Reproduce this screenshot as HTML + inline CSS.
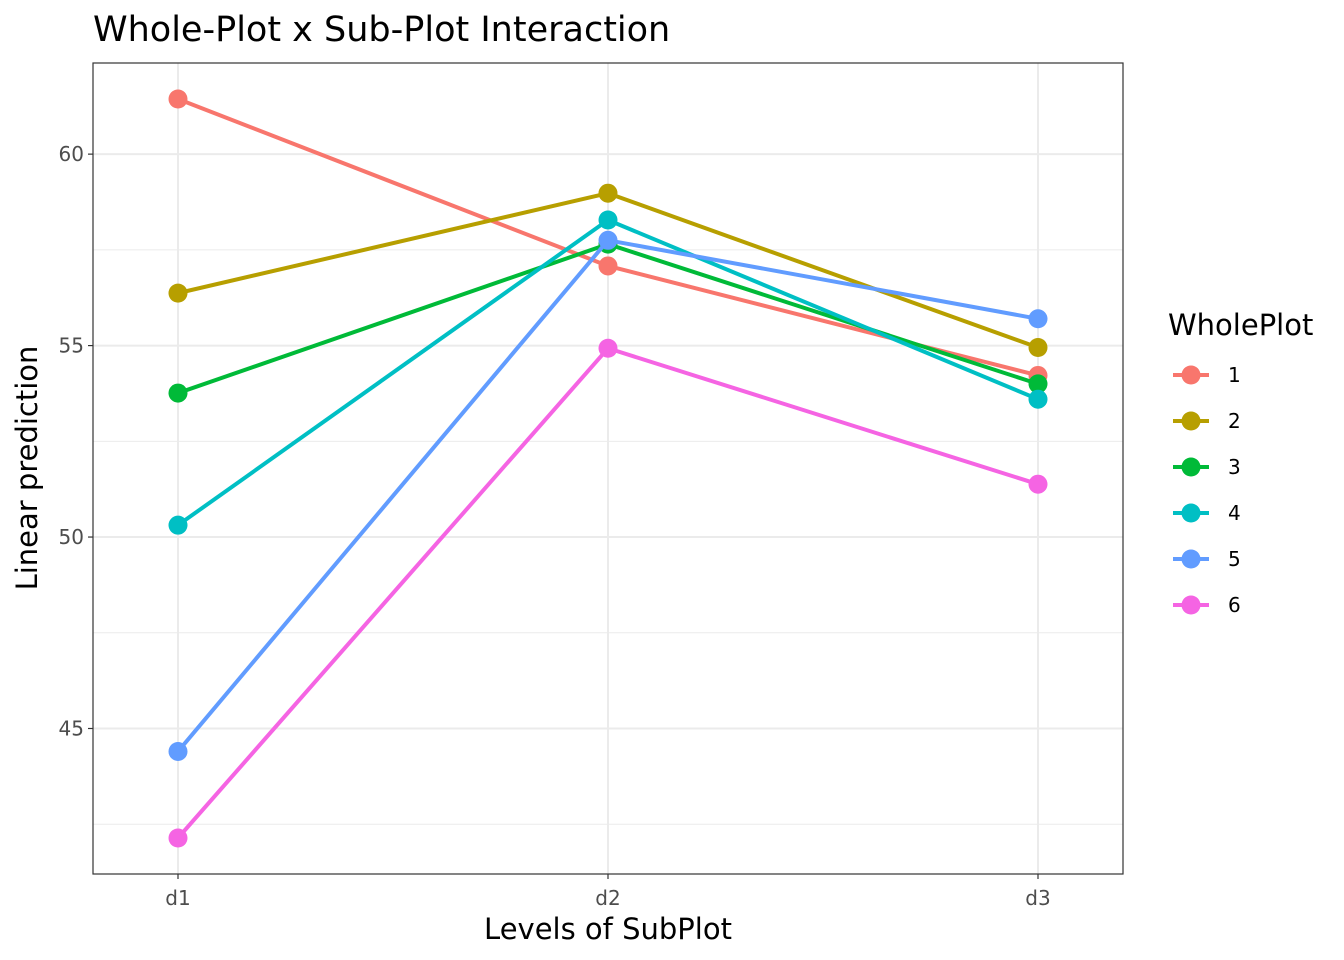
<!DOCTYPE html>
<html><head><meta charset="utf-8"><style>
body{margin:0;background:#fff;}
svg{display:block;font-family:"DejaVu Sans","Liberation Sans",sans-serif;}
</style></head><body>
<svg id="chart" width="1344" height="960" xmlns="http://www.w3.org/2000/svg">
<rect x="0" y="0" width="1344" height="960" fill="#fff"/>
<text x="93" y="41" font-size="35" fill="#000">Whole-Plot x Sub-Plot Interaction</text>
<g id="grid"></g>
<g id="series"></g>
<rect x="93" y="63" width="1030" height="811" fill="none" stroke="#333" stroke-width="1.2"/>
<g id="axes"></g>
<text x="608" y="939" font-size="29" text-anchor="middle" fill="#000">Levels of SubPlot</text>
<text transform="translate(37,468) rotate(-90)" font-size="29" text-anchor="middle" fill="#000">Linear prediction</text>
<text x="1168" y="335" font-size="29" fill="#000">WholePlot</text>
<g id="legend"></g>
</svg>
<script>
const categories = ["d1","d2","d3"];
const seriesNames = ["1","2","3","4","5","6"];
const s1 = [61.44, 57.08, 54.22];
const s2 = [56.37, 58.98, 54.95];
const s3 = [53.76, 57.65, 54.00];
const s4 = [50.31, 58.28, 53.60];
const s5 = [44.40, 57.75, 55.70];
const s6 = [42.14, 54.93, 51.38];
const yTicks = [45, 50, 55, 60];
const yMinor = [42.5, 47.5, 52.5, 57.5];
const colors = ["#F8766D","#B79F00","#00BA38","#00BFC4","#619CFF","#F564E3"];
const allSeries = [s1,s2,s3,s4,s5,s6];
const NS = "http://www.w3.org/2000/svg";
const X0=93, X1=1123, Y0=63, Y1=874;
const yMin=41.2, yMax=62.38;
function xScale(i){ return 178 + i*(1038-178)/(categories.length-1); }
function yScale(v){ return Y1 - (v-yMin)/(yMax-yMin)*(Y1-Y0); }
function mk(tag, attrs, parent){ const e=document.createElementNS(NS,tag); for(const k in attrs) e.setAttribute(k,attrs[k]); parent.appendChild(e); return e; }
const grid=document.getElementById("grid"), axes=document.getElementById("axes"), ser=document.getElementById("series"), leg=document.getElementById("legend");
yMinor.forEach(v=>{ const l=mk("line",{x1:X0,x2:X1,y1:yScale(v),y2:yScale(v),stroke:"#ebebeb","stroke-width":1},grid);

 });
yTicks.forEach(v=>{ const y=yScale(v);
const l=mk("line",{x1:X0,x2:X1,y1:y,y2:y,stroke:"#ebebeb","stroke-width":2},grid);


const t=mk("line",{x1:X0-5,x2:X0,y1:y,y2:y,stroke:"#333","stroke-width":1.2},axes);


const tx=mk("text",{x:X0-9,y:y+7,"font-size":20,"text-anchor":"end",fill:"#4d4d4d"},axes); tx.textContent=v;

 });
categories.forEach((c,i)=>{ const x=xScale(i);
const l=mk("line",{x1:x,x2:x,y1:Y0,y2:Y1,stroke:"#ebebeb","stroke-width":2},grid);


const t=mk("line",{x1:x,x2:x,y1:Y1,y2:Y1+5,stroke:"#333","stroke-width":1.2},axes);


const tx=mk("text",{x:x,y:Y1+31,"font-size":20,"text-anchor":"middle",fill:"#4d4d4d"},axes); tx.textContent=c;

 });
allSeries.forEach((s,k)=>{
const pts=s.map((v,i)=>xScale(i)+","+yScale(v)).join(" ");
const pl=mk("polyline",{points:pts,fill:"none",stroke:colors[k],"stroke-width":4},ser);


s.forEach((v,i)=>{ const c=mk("circle",{cx:xScale(i),cy:yScale(v),r:9.5,fill:colors[k]},ser);

 });
const ly=375+k*46;
const g=mk("g",{},leg);


mk("line",{x1:1173,x2:1209,y1:ly,y2:ly,stroke:colors[k],"stroke-width":4},g);
mk("circle",{cx:1191,cy:ly,r:9.5,fill:colors[k]},g);
const t=mk("text",{x:1228,y:ly+7,"font-size":20,fill:"#000"},g); t.textContent=seriesNames[k];
});
</script>
</body></html>
